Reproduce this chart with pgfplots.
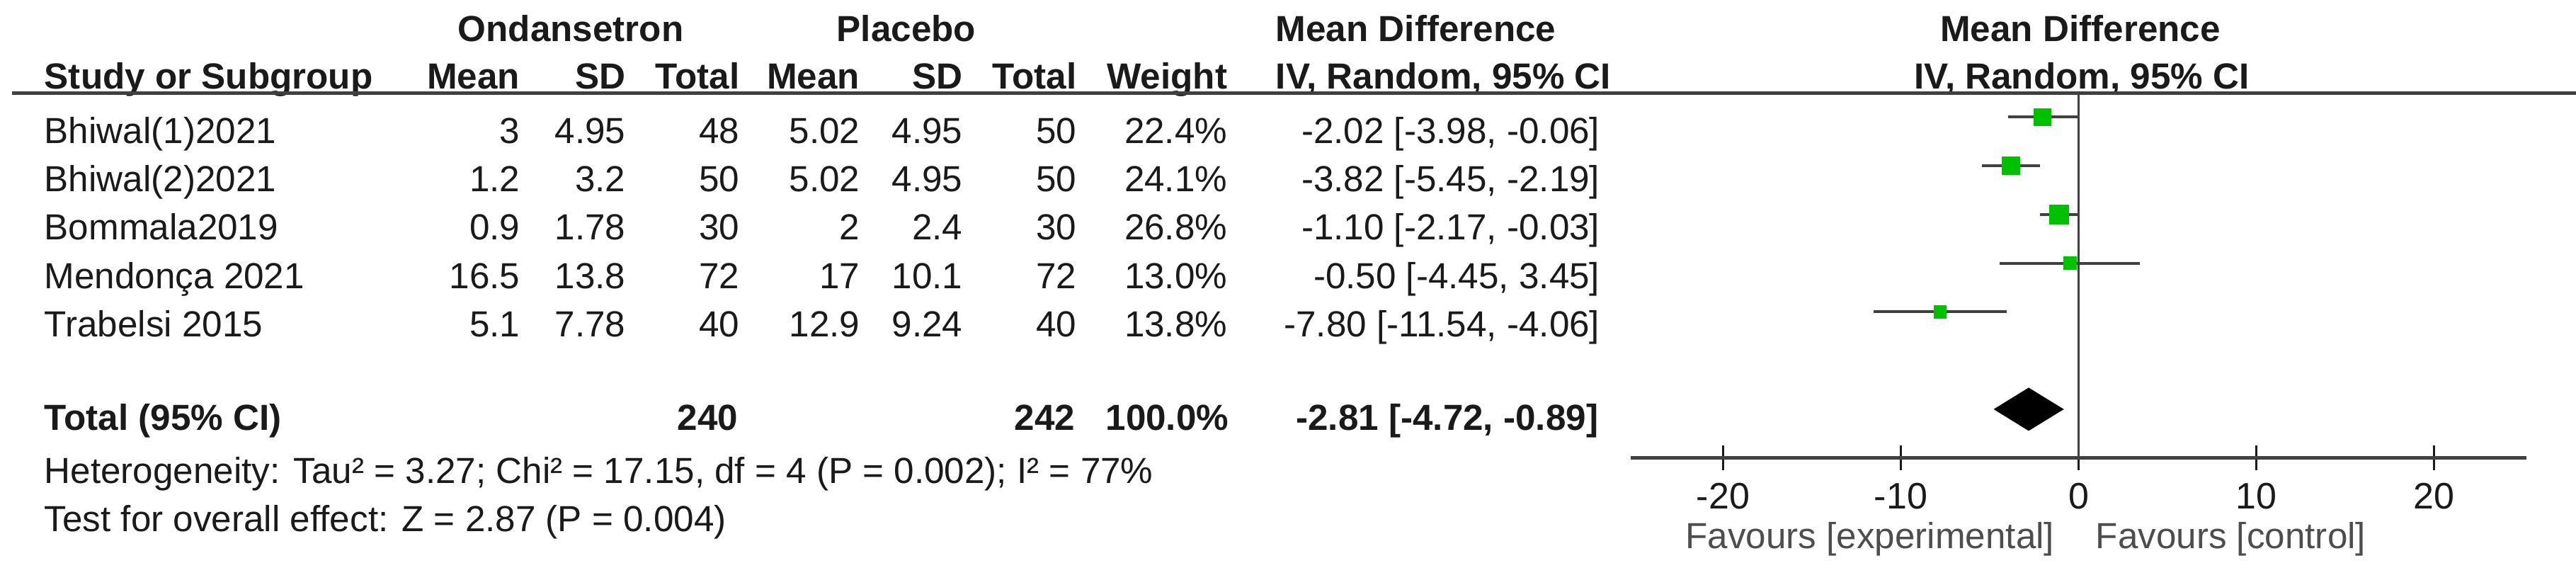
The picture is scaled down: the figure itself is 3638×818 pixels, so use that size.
\documentclass[border=0pt]{standalone}
\usepackage{pgfplots}
\pgfplotsset{compat=1.18}
\usepackage{fontspec}
\setmainfont{Liberation Sans}
\definecolor{txt}{HTML}{1A1A1A}
\definecolor{cil}{HTML}{404040}
\definecolor{mk}{HTML}{00C000}
\definecolor{fav}{HTML}{4D4D4D}
\newcommand{\R}[3]{\node[anchor=base east,inner sep=0pt,text=txt] at (#1,#2) {#3};}
\newcommand{\Lt}[3]{\node[anchor=base west,inner sep=0pt,text=txt] at (#1,#2) {#3};}
\newcommand{\C}[3]{\node[anchor=base,inner sep=0pt,text=txt] at (#1,#2) {#3};}
\begin{document}
\fontsize{12.8}{15}\selectfont
\begin{tikzpicture}
\begin{scope}[x=0.25pt,y=-0.25pt]
\path[use as bounding box] (0,0) rectangle (3638,818);
% header
\begin{scope}[font=\bfseries]
\C{806}{58}{Ondansetron}
\C{1280}{58}{Placebo}
\Lt{1801}{58}{Mean Difference}
\C{2938}{58}{Mean Difference}
\Lt{62}{125}{Study or Subgroup}
\R{735}{125}{Mean}
\R{884}{125}{SD}
\R{1045}{125}{Total}
\R{1215}{125}{Mean}
\R{1360}{125}{SD}
\R{1521}{125}{Total}
\R{1734}{125}{Weight}
\Lt{1801}{125}{IV, Random, 95\% CI}
\C{2940}{125}{IV, Random, 95\% CI}
\end{scope}
\draw[line width=1.25pt,color=cil] (17,131) -- (3638,131);
% rows
\Lt{62}{202}{Bhiwal(1)2021}
\R{735}{202}{3}\R{884}{202}{4.95}\R{1045}{202}{48}
\R{1215}{202}{5.02}\R{1360}{202}{4.95}\R{1521}{202}{50}
\R{1734}{202}{22.4\%}\R{2260}{202}{-2.02 [-3.98, -0.06]}
\Lt{62}{270.4}{Bhiwal(2)2021}
\R{735}{270.4}{1.2}\R{884}{270.4}{3.2}\R{1045}{270.4}{50}
\R{1215}{270.4}{5.02}\R{1360}{270.4}{4.95}\R{1521}{270.4}{50}
\R{1734}{270.4}{24.1\%}\R{2260}{270.4}{-3.82 [-5.45, -2.19]}
\Lt{62}{338.8}{Bommala2019}
\R{735}{338.8}{0.9}\R{884}{338.8}{1.78}\R{1045}{338.8}{30}
\R{1215}{338.8}{2}\R{1360}{338.8}{2.4}\R{1521}{338.8}{30}
\R{1734}{338.8}{26.8\%}\R{2260}{338.8}{-1.10 [-2.17, -0.03]}
\Lt{62}{407.2}{Mendonça 2021}
\R{735}{407.2}{16.5}\R{884}{407.2}{13.8}\R{1045}{407.2}{72}
\R{1215}{407.2}{17}\R{1360}{407.2}{10.1}\R{1521}{407.2}{72}
\R{1734}{407.2}{13.0\%}\R{2260}{407.2}{-0.50 [-4.45, 3.45]}
\Lt{62}{475.6}{Trabelsi 2015}
\R{735}{475.6}{5.1}\R{884}{475.6}{7.78}\R{1045}{475.6}{40}
\R{1215}{475.6}{12.9}\R{1360}{475.6}{9.24}\R{1521}{475.6}{40}
\R{1734}{475.6}{13.8\%}\R{2260}{475.6}{-7.80 [-11.54, -4.06]}
\begin{scope}[font=\bfseries]
\Lt{62}{607}{Total (95\% CI)}
\R{1043}{607}{240}\R{1519}{607}{242}\R{1736}{607}{100.0\%}
\R{2258}{607}{-2.81 [-4.72, -0.89]}
\end{scope}
\Lt{62}{682}{Heterogeneity: Tau² = 3.27; Chi² = 17.15, df = 4 (P = 0.002); I² = 77\%}
\Lt{62}{750}{Test for overall effect: Z = 2.87 (P = 0.004)}
\node[anchor=base east,inner sep=0pt,text=fav] at (2902,774) {Favours [experimental]};
\node[anchor=base west,inner sep=0pt,text=fav] at (2959,774) {Favours [control]};
\end{scope}
\begin{axis}[at={(575.75pt,-161.65pt)}, anchor=south west,
  width=316.25pt, height=128.9pt, scale only axis,
  xmin=-25.2, xmax=25.2, ymin=0.5, ymax=8, y dir=reverse,
  axis x line=bottom, axis y line=none,
  axis line style={-, line width=1.4pt, color=cil},
  xtick={-20,-10,0,10,20}, xticklabels={-20,-10,0,10,20},
  major tick length=8.75pt, xtick align=center,
  xtick style={line width=0.75pt, color=txt},
  xticklabel style={font=\fontsize{13}{15}\selectfont, text=txt},
  clip=false]
% zero line
\addplot[color=cil, line width=0.75pt] coordinates {(0,0.5) (0,8)};
% CIs
\addplot[color=cil, line width=1pt] coordinates {(-3.98,1) (-0.06,1)};
\addplot[color=cil, line width=1pt] coordinates {(-5.45,2) (-2.19,2)};
\addplot[color=cil, line width=1pt] coordinates {(-2.17,3) (-0.03,3)};
\addplot[color=cil, line width=1pt] coordinates {(-4.45,4) (3.45,4)};
\addplot[color=cil, line width=1pt] coordinates {(-11.54,5) (-4.06,5)};
% point estimates
\addplot[only marks, mark=square*, mark size=3pt, mark options={fill=mk, draw=mk, line width=0pt}] coordinates {(-2.02,1)};
\addplot[only marks, mark=square*, mark size=3.1pt, mark options={fill=mk, draw=mk, line width=0pt}] coordinates {(-3.82,2)};
\addplot[only marks, mark=square*, mark size=3.4pt, mark options={fill=mk, draw=mk, line width=0pt}] coordinates {(-1.10,3)};
\addplot[only marks, mark=square*, mark size=2.25pt, mark options={fill=mk, draw=mk, line width=0pt}] coordinates {(-0.50,4)};
\addplot[only marks, mark=square*, mark size=2.15pt, mark options={fill=mk, draw=mk, line width=0pt}] coordinates {(-7.80,5)};
% pooled diamond
\addplot[fill=black, draw=black] coordinates {(-4.72,7) (-2.81,6.57) (-0.89,7) (-2.81,7.43)} -- cycle;
\end{axis}
\end{tikzpicture}
\end{document}
